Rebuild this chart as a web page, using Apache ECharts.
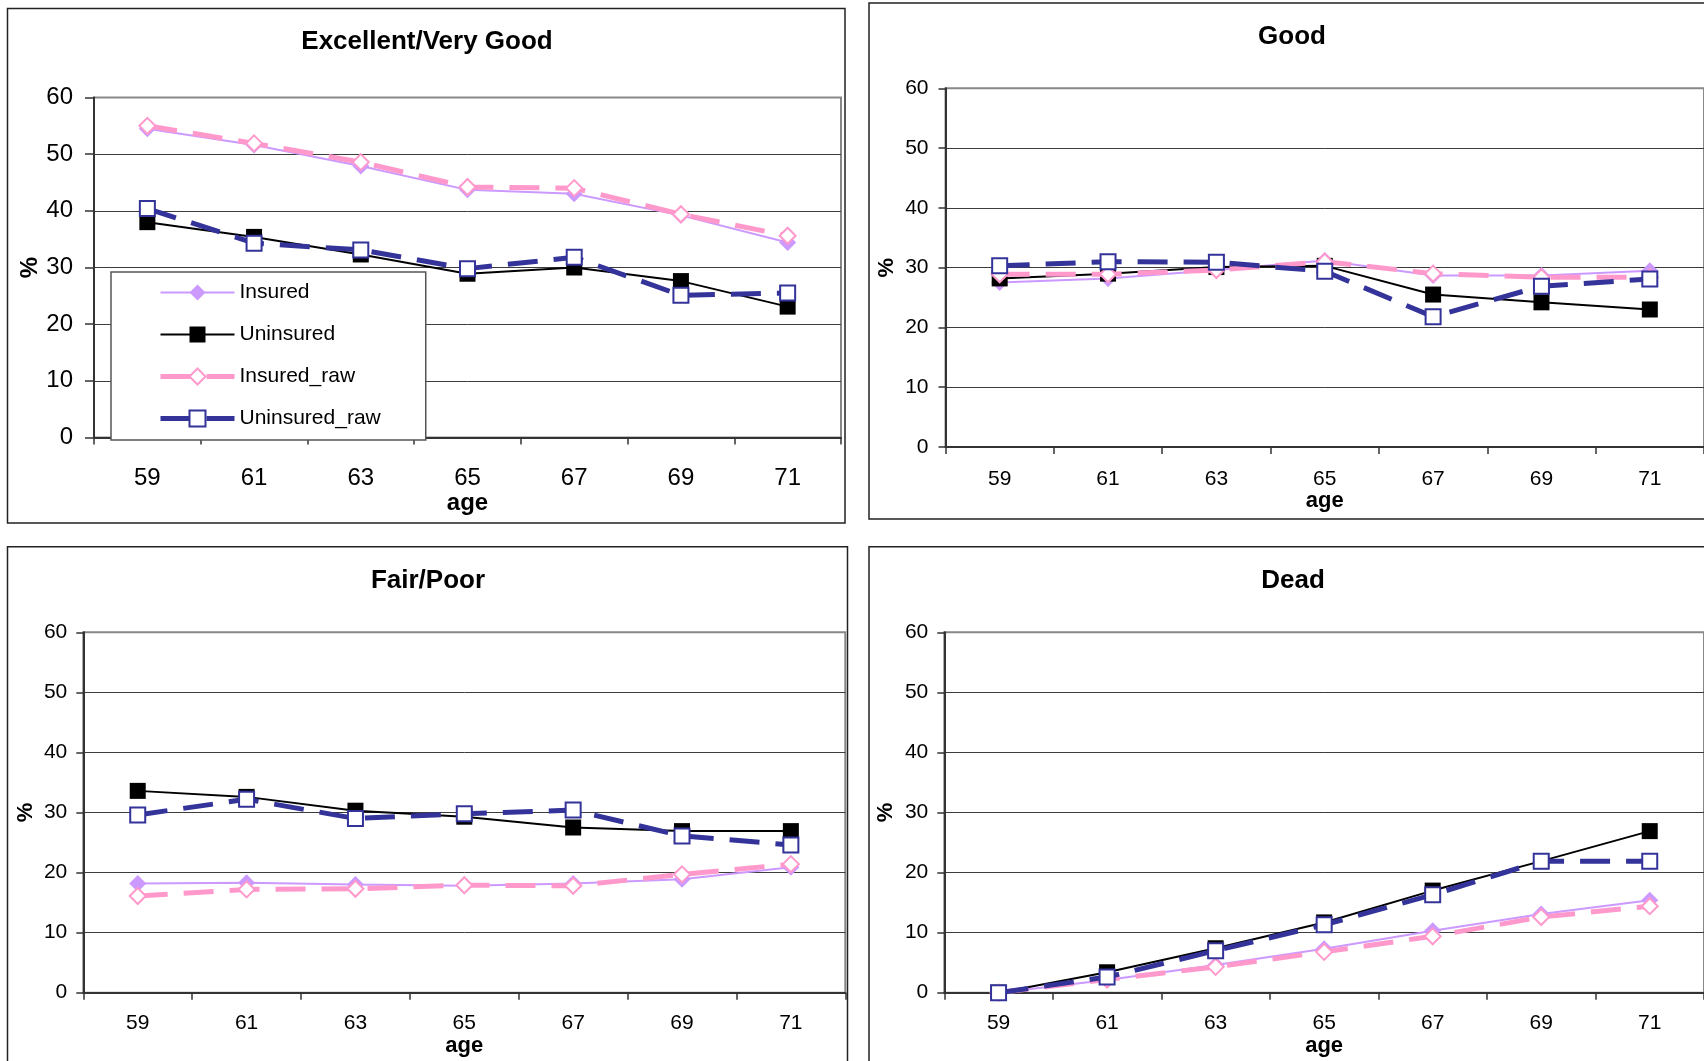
<!DOCTYPE html>
<html>
<head>
<meta charset="utf-8">
<script src="https://cdn.jsdelivr.net/npm/echarts@6/dist/echarts.min.js"></script>
<style>
html,body{margin:0;padding:0;background:#fff;}
#chart{width:1704px;height:1061px;}
</style>
</head>
<body>
<div id="chart"></div>
<script>
// ---- data ----
const ages = ['59', '61', '63', '65', '67', '69', '71'];
const seriesNames = ['Insured', 'Uninsured', 'Insured_raw', 'Uninsured_raw'];
const panelTitles = ['Excellent/Very Good', 'Good', 'Fair/Poor', 'Dead'];
const yMin = 0, yMax = 60, yStep = 10;

const excInsured     = [54.5, 51.6, 47.9, 43.7, 43.0, 39.2, 34.4];
const excUninsured   = [38.0, 35.4, 32.3, 28.9, 30.0, 27.6, 23.1];
const excInsuredRaw  = [55.0, 51.9, 48.6, 44.2, 44.0, 39.4, 35.6];
const excUninsuredRaw= [40.4, 34.3, 33.1, 29.8, 31.8, 25.1, 25.5];

const goodInsured     = [27.5, 28.2, 29.6, 31.2, 28.7, 28.7, 29.5];
const goodUninsured   = [28.2, 29.0, 30.1, 30.3, 25.5, 24.2, 23.0];
const goodInsuredRaw  = [28.9, 28.9, 29.6, 31.0, 29.0, 28.4, 28.4];
const goodUninsuredRaw= [30.3, 31.0, 30.9, 29.4, 21.8, 26.9, 28.1];

const fairInsured     = [18.2, 18.3, 18.0, 17.8, 18.2, 18.9, 20.9];
const fairUninsured   = [33.6, 32.6, 30.3, 29.3, 27.5, 26.9, 26.9];
const fairInsuredRaw  = [16.1, 17.2, 17.3, 17.9, 17.8, 19.7, 21.4];
const fairUninsuredRaw= [29.6, 32.2, 29.0, 29.8, 30.4, 26.1, 24.6];

const deadInsured     = [0, 2.1, 4.6, 7.3, 10.3, 13.1, 15.4];
const deadUninsured   = [0, 3.4, 7.4, 11.7, 17.0, 21.9, 26.9];
const deadInsuredRaw  = [0, 2.2, 4.3, 6.8, 9.4, 12.6, 14.4];
const deadUninsuredRaw= [0, 2.6, 7.0, 11.3, 16.3, 21.9, 21.9];

const panelData = [
  [excInsured, excUninsured, excInsuredRaw, excUninsuredRaw],
  [goodInsured, goodUninsured, goodInsuredRaw, goodUninsuredRaw],
  [fairInsured, fairUninsured, fairInsuredRaw, fairUninsuredRaw],
  [deadInsured, deadUninsured, deadInsuredRaw, deadUninsuredRaw]
];

// ---- layout / style ----
const FONT = '"Liberation Sans", Arial, Helvetica, sans-serif';
const panels = [
  {grid:{left:94,  top:97.5, width:747, height:340}, fs:24, nfs:24, yMargin:21, yTick:9, xMargin:29, xNameGap:53, yNameGap:51, titleX:427, titleTop:29},
  {grid:{left:945.5, top:88.3, width:761, height:358.7}, fs:21, nfs:22, yMargin:17, yTick:7, xMargin:21.5, xNameGap:43, yNameGap:48, titleX:1292, titleTop:24},
  {grid:{left:83.3, top:632.3, width:762, height:360.4}, fs:21, nfs:22, yMargin:16, yTick:7, xMargin:20.5, xNameGap:41, yNameGap:46, titleX:428, titleTop:567.5},
  {grid:{left:944.3, top:632.3, width:763, height:360.4}, fs:21, nfs:22, yMargin:16, yTick:7, xMargin:20.5, xNameGap:41, yNameGap:47, titleX:1293, titleTop:567.5}
];
const seriesStyles = [
  {color:'#CC99FF', width:2, dash:'solid', symbol:'diamond', size:17, fill:'#CC99FF', border:'#CC99FF', bw:0},
  {color:'#000000', width:2, dash:'solid', symbol:'rect', size:16, fill:'#000000', border:'#000000', bw:0},
  {color:'#FF99CC', width:5, dash:[30,16], symbol:'diamond', size:16, fill:'#ffffff', border:'#FF99CC', bw:2},
  {color:'#333399', width:5, dash:[30,16], symbol:'rect', size:15, fill:'#ffffff', border:'#333399', bw:2}
];

const grids = [], xAxes = [], yAxes = [], series = [], titles = [];
panels.forEach((p, i) => {
  grids.push(Object.assign({show:true, borderColor:'#888', borderWidth:2, backgroundColor:'transparent'}, p.grid));
  xAxes.push({
    type:'category', gridIndex:i, data:ages, boundaryGap:true,
    name:'age', nameLocation:'middle', nameGap:p.xNameGap,
    nameTextStyle:{fontSize:p.nfs, fontWeight:'bold', color:'#000', fontFamily:FONT},
    axisLine:{lineStyle:{color:'#333', width:2}},
    axisTick:{show:true, length:7, lineStyle:{color:'#333', width:1.5}},
    axisLabel:{fontSize:p.fs, color:'#000', margin:p.xMargin, fontFamily:FONT, interval:0},
    splitLine:{show:false}
  });
  yAxes.push({
    type:'value', gridIndex:i, min:yMin, max:yMax, interval:yStep,
    name:'%', nameLocation:'middle', nameGap:p.yNameGap,
    nameTextStyle:{fontSize:p.nfs, fontWeight:'bold', color:'#000', fontFamily:FONT},
    axisLine:{show:true, lineStyle:{color:'#333', width:2}},
    axisTick:{show:true, length:p.yTick, lineStyle:{color:'#333', width:1.5}},
    axisLabel:{fontSize:p.fs, color:'#000', margin:p.yMargin, fontFamily:FONT},
    splitLine:{show:true, showMinLine:false, showMaxLine:false, lineStyle:{color:'#3c3c3c', width:1}}
  });
  titles.push({
    text:panelTitles[i], left:p.titleX, top:p.titleTop, textAlign:'center', padding:0,
    textStyle:{fontSize:26, fontWeight:'bold', color:'#000', fontFamily:FONT}
  });
  panelData[i].forEach((vals, k) => {
    const s = seriesStyles[k];
    series.push({
      name:seriesNames[k], type:'line', xAxisIndex:i, yAxisIndex:i,
      data:vals, symbol:s.symbol, symbolSize:s.size, showSymbol:true,
      color:s.color,
      lineStyle:{color:s.color, width:s.width, type:s.dash},
      itemStyle:{color:s.fill, borderColor:s.border, borderWidth:s.bw},
      emphasis:{disabled:true}, animation:false, z:2+k
    });
  });
});

const legendData = seriesNames.map((n, k) => ({
  name:n,
  lineStyle:{color:seriesStyles[k].color, width:seriesStyles[k].width, type:seriesStyles[k].dash},
  itemStyle:{color:seriesStyles[k].fill, borderColor:seriesStyles[k].border, borderWidth:seriesStyles[k].bw}
}));

const chart = echarts.init(document.getElementById('chart'), null, {renderer:'canvas'});
chart.setOption({
  backgroundColor:'#ffffff',
  animation:false,
  textStyle:{fontFamily:FONT},
  title:titles,
  legend:{
    data:legendData, orient:'vertical', left:111, top:272,
    padding:[10,45,11,47], itemWidth:74, itemHeight:20, itemGap:21,
    backgroundColor:'#ffffff', borderColor:'#555', borderWidth:1.5, borderRadius:0,
    textStyle:{fontSize:21, color:'#000', fontFamily:FONT},
    selectedMode:false, z:10
  },
  grid:grids, xAxis:xAxes, yAxis:yAxes, series:series,
  graphic:[
    {type:'rect', shape:{x:7.5, y:8.5, width:837.5, height:514.5}, style:{fill:'none', stroke:'#222', lineWidth:1.5}, z:-1, silent:true},
    {type:'rect', shape:{x:869, y:3, width:900, height:516}, style:{fill:'none', stroke:'#222', lineWidth:1.5}, z:-1, silent:true},
    {type:'rect', shape:{x:7.5, y:546.7, width:840, height:600}, style:{fill:'none', stroke:'#222', lineWidth:1.5}, z:-1, silent:true},
    {type:'rect', shape:{x:869, y:546.7, width:900, height:600}, style:{fill:'none', stroke:'#222', lineWidth:1.5}, z:-1, silent:true}
  ]
});
</script>
</body>
</html>
